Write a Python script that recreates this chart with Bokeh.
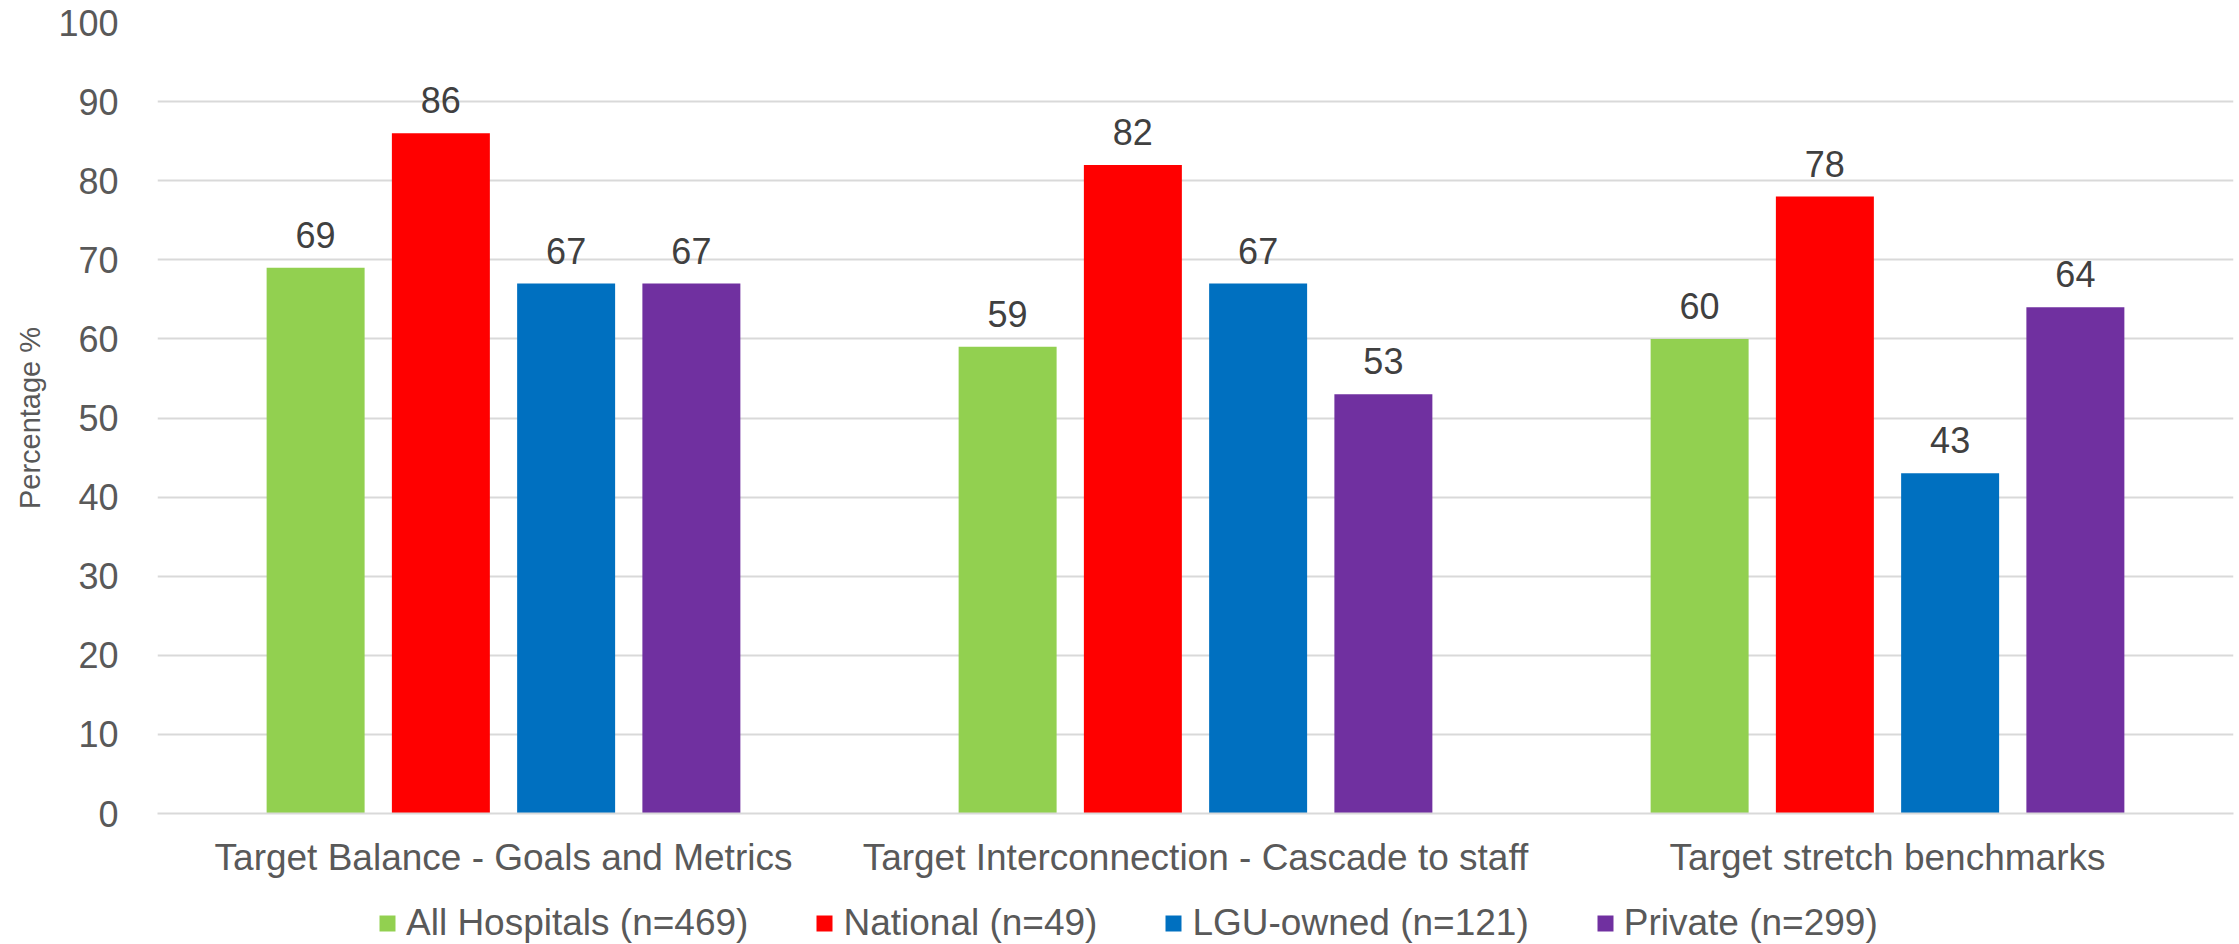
from bokeh.plotting import figure
from bokeh.layouts import column
from bokeh.models import FactorRange, ColumnDataSource, Legend, LegendItem
from bokeh.transform import dodge
from bokeh.core.properties import value
from bokeh.embed import file_html
from bokeh.resources import INLINE

categories = ["Target Balance - Goals and Metrics",
              "Target Interconnection - Cascade to staff",
              "Target stretch benchmarks"]
series_names = ["All Hospitals (n=469)", "National (n=49)", "LGU-owned (n=121)", "Private (n=299)"]
all_hospitals = [69, 59, 60]
national = [86, 82, 78]
lgu_owned = [67, 67, 43]
private = [67, 53, 64]
colors = ["#92D050", "#FF0000", "#0070C0", "#7030A0"]
y_ticks = list(range(0, 101, 10))

FONT = "Liberation Sans"
MAIN_H = 885
LEG_H = 944 - MAIN_H

p = figure(x_range=FactorRange(factors=categories, range_padding=0),
           y_range=(0, 100), width=2239, height=MAIN_H,
           output_backend="svg", toolbar_location=None,
           min_border_left=157, min_border_right=6, min_border_top=22,
           min_border_bottom=MAIN_H - 813)
p.outline_line_color = None
p.background_fill_color = "white"
p.border_fill_color = "white"

offsets = [-0.2715, -0.0905, 0.0905, 0.2715]
bar_w = 0.1416
for name, vals, col, off in zip(series_names, [all_hospitals, national, lgu_owned, private], colors, offsets):
    src = ColumnDataSource(dict(cat=categories, val=vals, lbl=[str(v) for v in vals]))
    p.vbar(x=dodge("cat", off, range=p.x_range), top="val", width=bar_w,
           fill_color=col, line_color=None, source=src)
    p.text(x=dodge("cat", off, range=p.x_range), y="val", text="lbl", source=src,
           y_offset=-33, text_align="center", text_baseline="alphabetic",
           text_font=value(FONT), text_font_size=value("36px"), text_color="#404040")

# axes
p.yaxis.ticker = y_ticks
p.yaxis.axis_line_color = None
p.yaxis.major_tick_line_color = None
p.yaxis.minor_tick_line_color = None
p.yaxis.major_label_standoff = 33
p.yaxis.major_label_text_font = FONT
p.yaxis.major_label_text_font_size = "36px"
p.yaxis.major_label_text_color = "#595959"
p.yaxis.axis_label = "Percentage %"
p.yaxis.axis_label_text_font = FONT
p.yaxis.axis_label_text_font_size = "29px"
p.yaxis.axis_label_text_font_style = "normal"
p.yaxis.axis_label_text_color = "#595959"
p.yaxis.axis_label_standoff = 9

p.xaxis.axis_line_color = "#D9D9D9"
p.xaxis.axis_line_width = 2
p.xaxis.major_tick_line_color = None
p.xaxis.minor_tick_line_color = None
p.xaxis.major_label_standoff = 17
p.xaxis.major_label_text_font = FONT
p.xaxis.major_label_text_font_size = "37px"
p.xaxis.major_label_text_color = "#595959"

p.xgrid.grid_line_color = None
p.ygrid.grid_line_color = "#D9D9D9"
p.ygrid.grid_line_width = 2

# legend strip below the chart (frame aligned with the chart's frame)
p2 = figure(width=2239, height=LEG_H, output_backend="svg", toolbar_location=None,
            x_axis_type=None, y_axis_type=None, x_range=(0, 1), y_range=(0, 1),
            min_border=0)
p2.outline_line_color = None
p2.grid.visible = False
items = []
for name, col in zip(series_names, colors):
    # legend swatch only: a NaN bar draws nothing in the strip itself
    r = p2.vbar(x=[float("nan")], top=[float("nan")], width=0.1, fill_color=col, line_color=None)
    items.append(LegendItem(label=name, renderers=[r]))
legend = Legend(items=items, orientation="horizontal", location=(220, 0),
                glyph_width=20, glyph_height=20, label_standoff=9, spacing=66,
                padding=0, margin=0, border_line_color=None, background_fill_alpha=0,
                label_text_font=FONT, label_text_font_size="37px", label_text_color="#595959")
p2.add_layout(legend)

open("out.html", "w").write(file_html(column(p, p2, spacing=0), INLINE))
